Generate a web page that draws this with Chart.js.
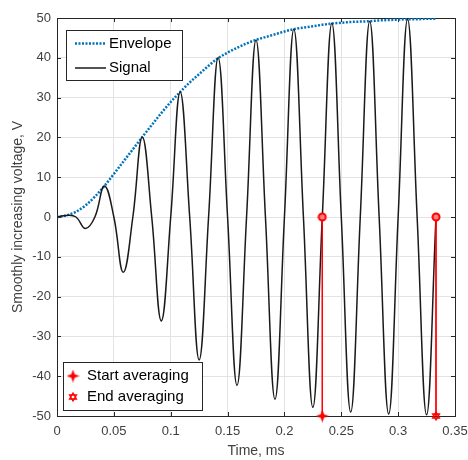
<!DOCTYPE html>
<html>
<head>
<meta charset="utf-8">
<script src="https://cdn.jsdelivr.net/npm/chart.js@4"></script>
<style>
  body { margin: 0; background: #fff; }
  canvas { display: block; }
</style>
</head>
<body>
<canvas id="myChart" width="468" height="460"></canvas>
<script>
// time samples, ms
const times = [0, 0.0083, 0.0167, 0.025, 0.0333, 0.0417, 0.05, 0.0583, 0.0667, 0.075,
  0.0833, 0.0917, 0.1, 0.1083, 0.1167, 0.125, 0.1333, 0.1417, 0.15, 0.1583,
  0.1667, 0.175, 0.1833, 0.1917, 0.2, 0.2083, 0.2167, 0.225, 0.2333, 0.2417,
  0.25, 0.2583, 0.2667, 0.275, 0.2833, 0.2917, 0.3, 0.3083, 0.3167, 0.325, 0.3333];

const envelope = [0, 0.4, 1.3, 2.9, 5.1, 7.8, 10.8, 13.9, 17.0, 20.1,
  23.1, 26.1, 28.9, 31.4, 33.8, 35.9, 38.0, 39.9, 41.3, 42.5,
  43.6, 44.5, 45.2, 45.9, 46.6, 47.2, 47.6, 47.9, 48.3, 48.6,
  48.8, 49.0, 49.1, 49.2, 49.4, 49.5, 49.6, 49.7, 49.7, 49.8, 49.8];

const signal = [0, 0.4, 0, -2.9, 0, 7.8, 0, -13.9, 0, 20.1,
  0, -26.1, 0, 31.4, 0, -35.9, 0, 40.0, 0, -42.3,
  0, 44.5, 0, -45.8, 0, 47.2, 0, -47.8, 0, 48.7,
  0, -49.0, 0, 49.2, 0, -49.5, 0, 49.7, 0, -49.7, 0];

const startTime = 0.2333;
const endTime = 0.3333;
const markerLevels = [0, -50];

const xTicks = [0, 0.05, 0.1, 0.15, 0.2, 0.25, 0.3, 0.35];
const yTicks = [-50, -40, -30, -20, -10, 0, 10, 20, 30, 40, 50];

const RED = '#ff0000';
const AXIS = '#262626';
const FONT = "'Liberation Sans', Arial, sans-serif";

//marker pictures
function star4(size){
  const c = document.createElement('canvas');
  c.width = size; c.height = size;
  const g = c.getContext('2d');
  const m = size / 2, k = size * 0.13;
  g.fillStyle = RED;
  g.beginPath();
  g.moveTo(m, 0);
  g.lineTo(m + k, m - k);
  g.lineTo(size, m);
  g.lineTo(m + k, m + k);
  g.lineTo(m, size);
  g.lineTo(m - k, m + k);
  g.lineTo(0, m);
  g.lineTo(m - k, m - k);
  g.closePath();
  g.fill();
  return c;
}
function hexagram(size){
  const c = document.createElement('canvas');
  c.width = size; c.height = size;
  const g = c.getContext('2d');
  const m = size / 2, r = size / 2 - 1;
  g.strokeStyle = RED;
  g.lineWidth = 1.3;
  [ -Math.PI / 2, Math.PI / 2 ].forEach(a0=>{
    g.beginPath();
    for (let i = 0; i < 3; i++) {
      const a = a0 + i * 2 * Math.PI / 3;
      const px = m + r * Math.cos(a), py = m + r * Math.sin(a);
      if (i === 0) g.moveTo(px, py); else g.lineTo(px, py);
    }
    g.closePath();
    g.stroke();
  });
  return c;
}
function ring(size){
  const c = document.createElement('canvas');
  c.width = size; c.height = size;
  const g = c.getContext('2d');
  g.fillStyle = '#ff8080';
  g.strokeStyle = RED;
  g.lineWidth = 2;
  g.beginPath();
  g.arc(size / 2, size / 2, size / 2 - 1.5, 0, Math.PI * 2);
  g.fill();
  g.stroke();
  return c;
}
const starImg = star4(13);
const hexImg = hexagram(10);
const ringImg = ring(10);

function fmt(v){
  return String(+v.toFixed(2));
}

//box, inner tick marks and the two legends
const matlabLook = {
  id: 'matlabLook',
  beforeDatasetsDraw(chart){
    const ctx = chart.ctx;
    const a = chart.chartArea;
    const xs = chart.scales.x, ys = chart.scales.y;
    ctx.save();
    ctx.strokeStyle = AXIS;
    ctx.lineWidth = 1;
    ctx.beginPath();
    xTicks.forEach(t=>{
      const px = Math.round(xs.getPixelForValue(t)) + 0.5;
      ctx.moveTo(px, a.bottom); ctx.lineTo(px, a.bottom - 4);
      ctx.moveTo(px, a.top); ctx.lineTo(px, a.top + 4);
    });
    yTicks.forEach(t=>{
      const py = Math.round(ys.getPixelForValue(t)) + 0.5;
      ctx.moveTo(a.left, py); ctx.lineTo(a.left + 4, py);
      ctx.moveTo(a.right, py); ctx.lineTo(a.right - 4, py);
    });
    ctx.stroke();
    ctx.strokeRect(Math.round(a.left) + 0.5, Math.round(a.top) + 0.5,
      Math.round(a.right - a.left), Math.round(a.bottom - a.top));
    ctx.restore();
  },
  afterDraw(chart){
    const ctx = chart.ctx;
    ctx.save();
    ctx.font = '15px ' + FONT;
    ctx.textBaseline = 'middle';
    ctx.textAlign = 'left';

    // legend 1
    ctx.lineWidth = 1;
    ctx.strokeStyle = AXIS;
    ctx.fillStyle = '#fff';
    ctx.fillRect(66, 30, 116, 50);
    ctx.strokeRect(66.5, 30.5, 116, 50);
    ctx.lineWidth = 2.5;
    ctx.strokeStyle = '#0072bd';
    ctx.setLineDash([2, 1.5]);
    ctx.beginPath(); ctx.moveTo(75, 43.5); ctx.lineTo(106, 43.5); ctx.stroke();
    ctx.setLineDash([]);
    ctx.lineWidth = 1.5;
    ctx.strokeStyle = '#1a1a1a';
    ctx.beginPath(); ctx.moveTo(75, 68); ctx.lineTo(106, 68); ctx.stroke();
    ctx.fillStyle = '#000';
    ctx.fillText('Envelope', 109, 44);
    ctx.fillText('Signal', 109, 68);

    // legend 2
    ctx.lineWidth = 1;
    ctx.strokeStyle = AXIS;
    ctx.fillStyle = '#fff';
    ctx.fillRect(63, 362, 139, 48);
    ctx.strokeRect(63.5, 362.5, 139, 48);
    ctx.drawImage(starImg, 73 - 6.5, 376 - 6.5);
    ctx.drawImage(hexImg, 73 - 5, 397 - 5);
    ctx.fillStyle = '#000';
    ctx.fillText('Start averaging', 87, 376);
    ctx.fillText('End averaging', 87, 397);
    ctx.restore();
  }
};

const toPts = (xs, ys) => xs.map((x, i) => ({x: x, y: ys[i]}));

const ctx = document.getElementById('myChart');

new Chart(ctx, {
  type: 'line',
  data: {
    datasets: [{
      label: 'Envelope',
      data: toPts(times, envelope),
      borderColor: '#0072bd',
      borderWidth: 2.5,
      borderDash: [2, 1.5],
      pointRadius: 0,
      cubicInterpolationMode: 'monotone',
      order: 3
    }, {
      label: 'Signal',
      data: toPts(times, signal),
      borderColor: '#1a1a1a',
      borderWidth: 1.5,
      pointRadius: 0,
      tension: 0.42,
      order: 2
    }, {
      label: 'Start averaging',
      data: markerLevels.map(y => ({x: startTime, y: y})),
      borderColor: RED,
      borderWidth: 1,
      pointStyle: [ringImg, starImg],
      clip: false,
      order: 1
    }, {
      label: 'End averaging',
      data: markerLevels.map(y => ({x: endTime, y: y})),
      borderColor: RED,
      borderWidth: 1,
      pointStyle: [ringImg, hexImg],
      clip: false,
      order: 1
    }]
  },
  options: {
    responsive: false,
    animation: false,
    devicePixelRatio: 1,
    layout: { padding: { top: 18, right: 13, left: 0, bottom: 0 } },
    plugins: {
      legend: { display: false },
      tooltip: { enabled: false }
    },
    scales: {
      x: {
        type: 'linear',
        min: 0,
        max: 0.35,
        afterBuildTicks: s => { s.ticks = xTicks.map(v => ({value: v})); },
        afterFit: s => { s.height = 44; s.paddingLeft = 0; s.paddingRight = 0; },
        grid: { color: '#e3e3e3', drawTicks: false },
        border: { display: false },
        ticks: {
          callback: v => fmt(v),
          color: '#404040',
          font: { family: FONT, size: 13 },
          padding: 8,
          maxRotation: 0
        },
        title: {
          display: true,
          text: 'Time, ms',
          color: '#404040',
          font: { family: FONT, size: 14 },
          padding: 0
        }
      },
      y: {
        min: -50,
        max: 50,
        afterBuildTicks: s => { s.ticks = yTicks.map(v => ({value: v})); },
        afterFit: s => { s.width = 57; s.paddingTop = 0; s.paddingBottom = 0; },
        grid: { color: '#e3e3e3', drawTicks: false },
        border: { display: false },
        ticks: {
          color: '#404040',
          font: { family: FONT, size: 13 },
          padding: 6
        },
        title: {
          display: true,
          text: 'Smoothly increasing voltage, V',
          color: '#404040',
          font: { family: FONT, size: 14 },
          padding: { top: 10, bottom: 0 }
        }
      }
    }
  },
  plugins: [matlabLook]
});
</script>
</body>
</html>
